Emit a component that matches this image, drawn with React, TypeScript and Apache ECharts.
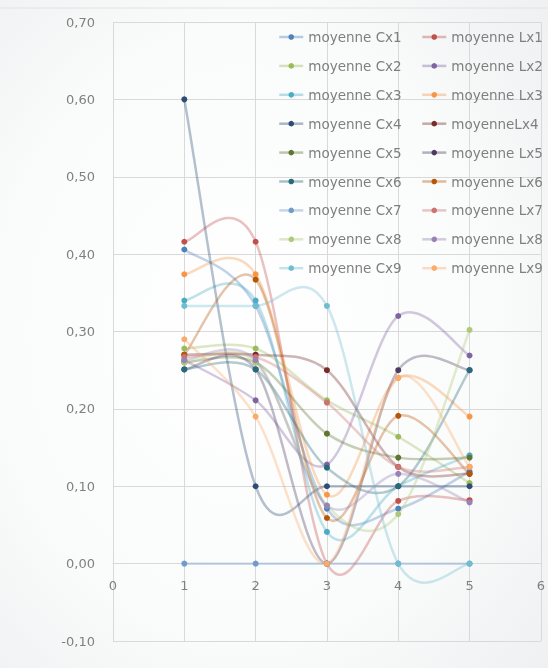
import React, { useEffect, useRef } from "react";
import * as echarts from "echarts";

const xValues = [1, 2, 3, 4, 5];

const cx1 = [0.406, 0.333, 0.071, 0.071, 0.119];
const lx1 = [0.416, 0.416, 0.0, 0.081, 0.082];
const cx2 = [0.278, 0.278, 0.211, 0.164, 0.104];
const lx2 = [0.263, 0.211, 0.128, 0.32, 0.269];
const cx3 = [0.34, 0.34, 0.041, 0.1, 0.14];
const lx3 = [0.374, 0.374, 0.089, 0.24, 0.19];
const cx4 = [0.6, 0.1, 0.1, 0.1, 0.1];
const lx4 = [0.27, 0.27, 0.25, 0.125, 0.116];
const cx5 = [0.26, 0.26, 0.168, 0.137, 0.137];
const lx5 = [0.251, 0.251, 0.0, 0.25, 0.25];
const cx6 = [0.251, 0.251, 0.124, 0.1, 0.25];
const lx6 = [0.27, 0.367, 0.059, 0.191, 0.116];
const cx7 = [0.0, 0.0, 0.0, 0.0, 0.0];
const lx7 = [0.267, 0.267, 0.208, 0.125, 0.125];
const cx8 = [0.26, 0.26, 0.075, 0.064, 0.302];
const lx8 = [0.263, 0.263, 0.075, 0.116, 0.079];
const cx9 = [0.333, 0.333, 0.333, 0.0, 0.0];
const lx9 = [0.29, 0.19, 0.0, 0.24, 0.125];

const cNames = [
  "moyenne Cx1", "moyenne Cx2", "moyenne Cx3", "moyenne Cx4", "moyenne Cx5",
  "moyenne Cx6", "moyenne Cx7", "moyenne Cx8", "moyenne Cx9",
];
const lNames = [
  "moyenne Lx1", "moyenne Lx2", "moyenne Lx3", "moyenneLx4", "moyenne Lx5",
  "moyenne Lx6", "moyenne Lx7", "moyenne Lx8", "moyenne Lx9",
];
const cValues = [cx1, cx2, cx3, cx4, cx5, cx6, cx7, cx8, cx9];
const lValues = [lx1, lx2, lx3, lx4, lx5, lx6, lx7, lx8, lx9];
const cColors = ["#4F81BD", "#9BBB59", "#4BACC6", "#2C4D75", "#5F7530", "#276A7C", "#729ACA", "#AFC97A", "#6FBDD1"];
const lColors = ["#C0504D", "#8064A2", "#F79646", "#772C2A", "#4D3B62", "#B65708", "#CD7371", "#9983B5", "#F9AB6B"];

const yTicks = { min: -0.1, max: 0.7, interval: 0.1 };
const xTicks = { min: 0, max: 6, interval: 1 };

const LINE_OPACITY = 0.35;

function makeCurve(name: string, values: number[], color: string) {
  const n = values.length;
  return {
    name: name + " (courbe)",
    type: "custom",
    z: 1,
    silent: true,
    data: values.map((v, i) => [xValues[i], v]),
    encode: { x: 0, y: 1 },
    renderItem: (params: any, api: any) => {
      const i = params.dataIndex;
      if (i >= n - 1) return null;
      const p = (k: number) => api.coord([xValues[k], values[k]]);
      const P0 = p(Math.max(i - 1, 0));
      const P1 = p(i);
      const P2 = p(i + 1);
      const P3 = p(Math.min(i + 2, n - 1));
      return {
        type: "bezierCurve",
        shape: {
          x1: P1[0],
          y1: P1[1],
          x2: P2[0],
          y2: P2[1],
          cpx1: P1[0] + (P2[0] - P0[0]) / 6,
          cpy1: P1[1] + (P2[1] - P0[1]) / 6,
          cpx2: P2[0] - (P3[0] - P1[0]) / 6,
          cpy2: P2[1] - (P3[1] - P1[1]) / 6,
        },
        style: { stroke: color, lineWidth: 2.5, fill: null, opacity: LINE_OPACITY },
      };
    },
  };
}

function makeMarkers(name: string, values: number[], color: string) {
  return {
    name,
    type: "line",
    z: 3,
    data: values.map((v, i) => [xValues[i], v]),
    symbol: "circle",
    symbolSize: 6,
    itemStyle: { color },
    lineStyle: { color, width: 2.5, opacity: 0 },
    emphasis: { disabled: true },
  };
}

export default function App() {
  const ref = useRef<HTMLDivElement>(null);
  useEffect(() => {
    if (!ref.current) return;
    const chart = echarts.init(ref.current, null, { renderer: "svg" });
    const series: any[] = [];
    for (let i = 0; i < 9; i++) {
      series.push(makeMarkers(cNames[i], cValues[i], cColors[i]));
      series.push(makeMarkers(lNames[i], lValues[i], lColors[i]));
    }
    for (let i = 0; i < 9; i++) {
      series.push(makeCurve(cNames[i], cValues[i], cColors[i]));
      series.push(makeCurve(lNames[i], lValues[i], lColors[i]));
    }
    const legendCommon = {
      orient: "vertical",
      top: 25,
      itemWidth: 24,
      itemHeight: 7,
      itemGap: 14.9,
      lineStyle: { opacity: 0.4, width: 2.5 },
      textStyle: { color: "#7f7f7f", fontSize: 13.5, lineHeight: 14, fontFamily: "DejaVu Sans" },
    };
    chart.setOption({
      animation: false,
      backgroundColor: {
        type: "radial",
        x: 0.45,
        y: 0.5,
        r: 0.75,
        colorStops: [
          { offset: 0, color: "#ffffff" },
          { offset: 0.6, color: "#fafbfb" },
          { offset: 1, color: "#eef0f1" },
        ],
      },
      grid: { left: 113, right: 3, top: 22, bottom: 27, containLabel: false },
      legend: [
        { ...legendCommon, left: 273, data: cNames },
        { ...legendCommon, left: 416, data: lNames },
      ],
      xAxis: {
        type: "value",
        position: "bottom",
        offset: -77.4,
        min: xTicks.min,
        max: xTicks.max,
        interval: xTicks.interval,
        axisLine: { show: true, onZero: false, lineStyle: { color: "#d9d9d9" } },
        axisTick: { show: false },
        axisLabel: { color: "#808080", fontSize: 13, margin: 15, fontFamily: "DejaVu Sans" },
        splitLine: { show: true, lineStyle: { color: "#d9d9d9" } },
      },
      yAxis: {
        type: "value",
        min: yTicks.min,
        max: yTicks.max,
        interval: yTicks.interval,
        axisLine: { show: false },
        axisTick: { show: false },
        axisLabel: {
          color: "#808080",
          fontSize: 13,
          margin: 18,
          fontFamily: "DejaVu Sans",
          formatter: (v: number) => v.toFixed(2).replace(".", ","),
        },
        splitLine: { show: true, lineStyle: { color: "#d9d9d9" } },
      },
      graphic: [
        { type: "line", shape: { x1: 0, y1: 8, x2: 548, y2: 8 }, style: { stroke: "#e2e2e2", lineWidth: 1 } },
      ],
      series,
    });
    return () => chart.dispose();
  }, []);
  return <div ref={ref} style={{ position: "fixed", left: 0, top: 0, width: 548, height: 668 }} />;
}
